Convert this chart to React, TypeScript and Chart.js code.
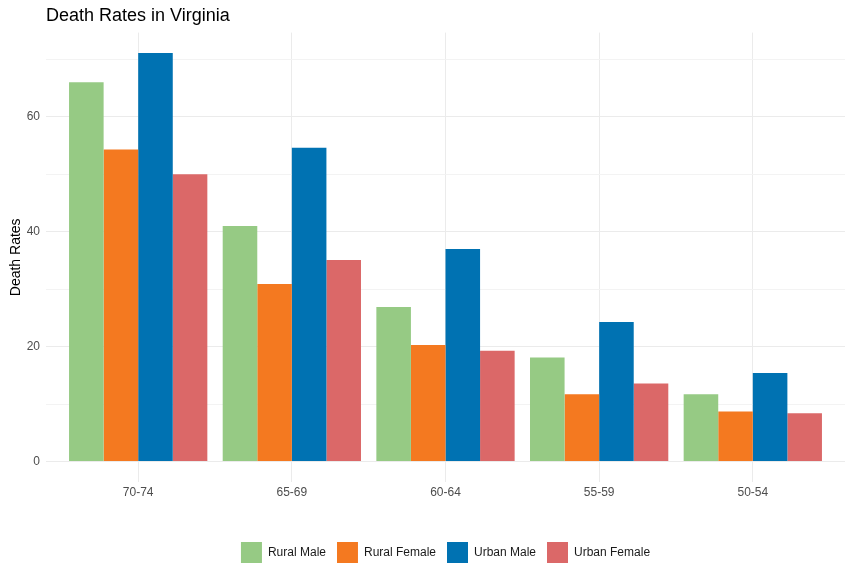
import React, { useEffect, useRef } from "react";
import { Chart, registerables } from "chart.js";

Chart.register(...registerables);

const ageGroups = ["70-74", "65-69", "60-64", "55-59", "50-54"];
const ruralMale = [66.0, 41.0, 26.9, 18.1, 11.7];
const ruralFemale = [54.3, 30.9, 20.3, 11.7, 8.7];
const urbanMale = [71.1, 54.6, 37.0, 24.3, 15.4];
const urbanFemale = [50.0, 35.1, 19.3, 13.6, 8.4];
const yTicks = [0, 10, 20, 30, 40, 50, 60, 70];
const yLabelled = [0, 20, 40, 60];

const seriesNames = ["Rural Male", "Rural Female", "Urban Male", "Urban Female"];
const seriesColors = ["#96CA84", "#F47920", "#0072B2", "#DB6868"];

const FONT = "'Liberation Sans', Arial, sans-serif";

export default function App() {
  const ref = useRef<HTMLCanvasElement>(null);
  useEffect(() => {
    if (!ref.current) return;
    const all = [ruralMale, ruralFemale, urbanMale, urbanFemale];
    const maxV = Math.max(...all.flat());
    const pad = maxV * 0.05;
    const chart = new Chart(ref.current, {
      type: "bar",
      data: {
        datasets: all.map((vals, i) => ({
          label: seriesNames[i],
          data: vals.map((v, j) => ({ x: j, y: v })),
          backgroundColor: seriesColors[i],
          borderWidth: 0,
          categoryPercentage: 0.9,
          barPercentage: 1.0,
        })),
      },
      options: {
        animation: false,
        responsive: false,
        maintainAspectRatio: false,
        layout: { padding: { left: 6, right: 9, top: 0, bottom: 4 } },
        plugins: {
          tooltip: { enabled: false },
          title: {
            display: true,
            text: "Death Rates in Virginia",
            align: "start",
            fullSize: false,
            color: "#000000",
            font: { family: FONT, size: 18, weight: "normal" },
            padding: { top: 5, bottom: 6 },
          },
          legend: {
            position: "bottom",
            fullSize: false,
            labels: {
              boxWidth: 21,
              boxHeight: 21,
              padding: 11,
              color: "#1a1a1a",
              font: { family: FONT, size: 12 },
            },
          },
        },
        scales: {
          x: {
            type: "linear",
            min: -0.6,
            max: ageGroups.length - 1 + 0.6,
            offset: false,
            afterBuildTicks: (axis: any) => {
              axis.ticks = ageGroups.map((_, i) => ({ value: i }));
            },
            afterFit: (axis: any) => {
              axis.height = 49;
            },
            ticks: {
              autoSkip: false,
              maxRotation: 0,
              padding: 3,
              color: "#4d4d4d",
              font: { family: FONT, size: 12 },
              callback: (v: any) => ageGroups[Math.round(Number(v))] ?? "",
            },
            grid: { color: "#ebebeb", lineWidth: 1, drawTicks: false, offset: false },
            border: { display: false },
          },
          y: {
            type: "linear",
            min: -pad,
            max: maxV + pad,
            afterBuildTicks: (axis: any) => {
              axis.ticks = yTicks.map((v) => ({ value: v }));
            },
            afterFit: (axis: any) => {
              axis.width = 40;
            },
            ticks: {
              padding: 6,
              color: "#4d4d4d",
              font: { family: FONT, size: 12 },
              callback: (v: any) => (yLabelled.includes(Number(v)) ? String(v) : ""),
            },
            title: {
              display: true,
              text: "Death Rates",
              color: "#000000",
              font: { family: FONT, size: 14 },
              padding: { top: 2, bottom: 4 },
            },
            grid: {
              color: (ctx: any) => (yLabelled.includes(ctx.tick?.value) ? "#ebebeb" : "#f3f3f3"),
              lineWidth: 1,
              drawTicks: false,
            },
            border: { display: false },
          },
        },
      },
    });
    return () => chart.destroy();
  }, []);
  return (
    <div style={{ position: "fixed", left: 0, top: 0, width: 854, height: 577, background: "#fff" }}>
      <canvas ref={ref} width={854} height={577} style={{ width: 854, height: 577, display: "block" }} />
    </div>
  );
}
